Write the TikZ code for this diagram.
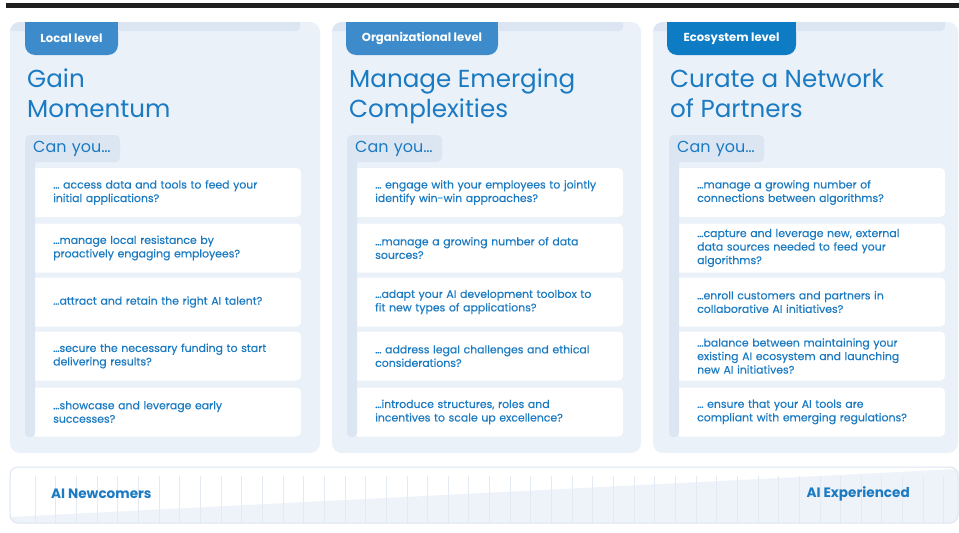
\documentclass[tikz,border=0pt]{standalone}
\usepackage{fontspec}
\setmainfont{Poppins}
\newfontfamily\qfont[FakeBold=0.3]{Poppins}
\definecolor{panelbg}{HTML}{EBF1F9}
\definecolor{shadebg}{HTML}{DCE6F3}
\definecolor{textblue}{HTML}{1A7AC2}
\definecolor{tabblue}{HTML}{3D8BCA}
\definecolor{tabdark}{HTML}{0E7CC4}
\definecolor{wedgebg}{HTML}{EEF3F9}
\definecolor{tickline}{HTML}{E4EAF3}
\tikzset{
       panel/.style = { fill=panelbg, rounded corners=10pt },
        band/.style = { fill=shadebg, rounded corners=4pt },
         tab/.style = { fill=tabblue, rounded corners=10pt, text=white, minimum height=33pt,
                        inner sep=0pt, font=\bfseries\fontsize{11.6}{13}\selectfont },
       title/.style = { anchor=north west, inner sep=0pt, align=left, text=textblue,
                        font=\fontsize{24.6}{30}\selectfont },
      canyou/.style = { fill=shadebg, rounded corners=5pt, anchor=west, text=textblue,
                        minimum height=27pt, text width=79pt, inner xsep=8pt, align=left,
                        font=\fontsize{16}{18}\selectfont },
       strip/.style = { fill=shadebg, rounded corners=4pt },
        qbox/.style = { fill=white, rounded corners=5pt, anchor=west, minimum height=49pt,
                        text width=226pt, inner xsep=22pt, align=left, text=textblue,
                        font=\qfont\fontsize{10.9}{13.5}\selectfont },
       level/.style = { text=textblue, inner sep=0pt, font=\bfseries\fontsize{13.6}{15}\selectfont }
}

\begin{document}
\begin{tikzpicture}[x=1pt, y=-1pt]
  \useasboundingbox (0,0) rectangle (959,533);
  \fill[white] (0,0) rectangle (959,533);
  % top rule
  \fill[black!88] (6,3) rectangle (959,8);

  % local level
  \fill[panel] (10,22) rectangle (320,453);
  \begin{scope}
    \clip[rounded corners=10pt] (10,22) rectangle (320,453);
    \fill[band] (4,18) rectangle (300,31);
  \end{scope}
  \fill[tabblue] (25,22) rectangle (118,40);
  \node[tab, minimum width=93pt] (tab1) at (71.5,38.5) {Local level};
  \node[title] (title1) at (27,69) {Gain\\Momentum};
  \node[canyou] (can1) at (25,148.5) {Can you…};
  \node[qbox] (q11) at (31,192.5) {… access data and tools to feed your\\initial applications?};
  \node[qbox] (q12) at (31,248) {…manage local resistance by\\proactively engaging employees?};
  \node[qbox] (q13) at (31,302) {…attract and retain the right AI talent?};
  \node[qbox] (q14) at (31,356) {…secure the necessary funding to start\\delivering results?};
  \node[qbox] (q15) at (31,412) {…showcase and leverage early\\successes?};
  \fill[strip] (25,150) rectangle (35,437);

  % organizational level
  \begin{scope}[xshift=322pt]
    \fill[panel] (10,22) rectangle (319,453);
    \begin{scope}
      \clip[rounded corners=10pt] (10,22) rectangle (319,453);
      \fill[band] (4,18) rectangle (301,31);
    \end{scope}
    \fill[tabblue] (24,22) rectangle (176,40);
    \node[tab, minimum width=152pt] (tab2) at (100,38.5) {Organizational level};
    \node[title] (title2) at (27,69) {Manage Emerging\\Complexities};
    \node[canyou] (can2) at (25,148.5) {Can you…};
    \node[qbox] (q21) at (31,192.5) {… engage with your employees to jointly\\identify win-win approaches?};
    \node[qbox] (q22) at (31,248) {…manage a growing number of data\\sources?};
    \node[qbox] (q23) at (31,302) {…adapt your AI development toolbox to\\fit new types of applications?};
    \node[qbox] (q24) at (31,356) {… address legal challenges and ethical\\considerations?};
    \node[qbox] (q25) at (31,412) {…introduce structures, roles and\\incentives to scale up excellence?};
    \fill[strip] (25,150) rectangle (35,437);
  \end{scope}

  % ecosystem level
  \begin{scope}[xshift=643pt]
    \fill[panel] (10,22) rectangle (315,453);
    \begin{scope}
      \clip[rounded corners=10pt] (10,22) rectangle (315,453);
      \fill[band] (4,18) rectangle (302,31);
    \end{scope}
    \fill[tabdark] (24,22) rectangle (153,40);
    \node[tab, fill=tabdark, minimum width=129pt] (tab3) at (88.5,38.5) {Ecosystem level};
    \node[title] (title3) at (27,69) {Curate a Network\\of Partners};
    \node[canyou] (can3) at (26,148.5) {Can you…};
    \node[qbox] (q31) at (32,192.5) {…manage a growing number of\\connections between algorithms?};
    \node[qbox] (q32) at (32,248) {…capture and leverage new, external\\data sources needed to feed your\\algorithms?};
    \node[qbox] (q33) at (32,302) {…enroll customers and partners in\\collaborative AI initiatives?};
    \node[qbox] (q34) at (32,356) {…balance between maintaining your\\existing AI ecosystem and launching\\new AI initiatives?};
    \node[qbox] (q35) at (32,412) {… ensure that your AI tools are\\compliant with emerging regulations?};
    \fill[strip] (26,150) rectangle (36,437);
  \end{scope}

  % experience bar
  \fill[white, rounded corners=8pt] (10,467) rectangle (958,523);
  \begin{scope}
    \clip[rounded corners=8pt] (10,467) rectangle (958,523);
    \fill[wedgebg] (10,517) -- (958,469) -- (958,523) -- (10,523) -- cycle;
    \foreach \x in {35,55.65,...,958}
      \draw[tickline, line width=0.4pt] (\x,476) -- (\x,523);
  \end{scope}
  \draw[shadebg, line width=1pt, rounded corners=8pt] (10,467) rectangle (958,523);
  \node[level, anchor=west] (newcomers) at (51,494) {AI Newcomers};
  \node[level, anchor=east] (experienced) at (910,494) {AI Experienced};
\end{tikzpicture}
\end{document}
